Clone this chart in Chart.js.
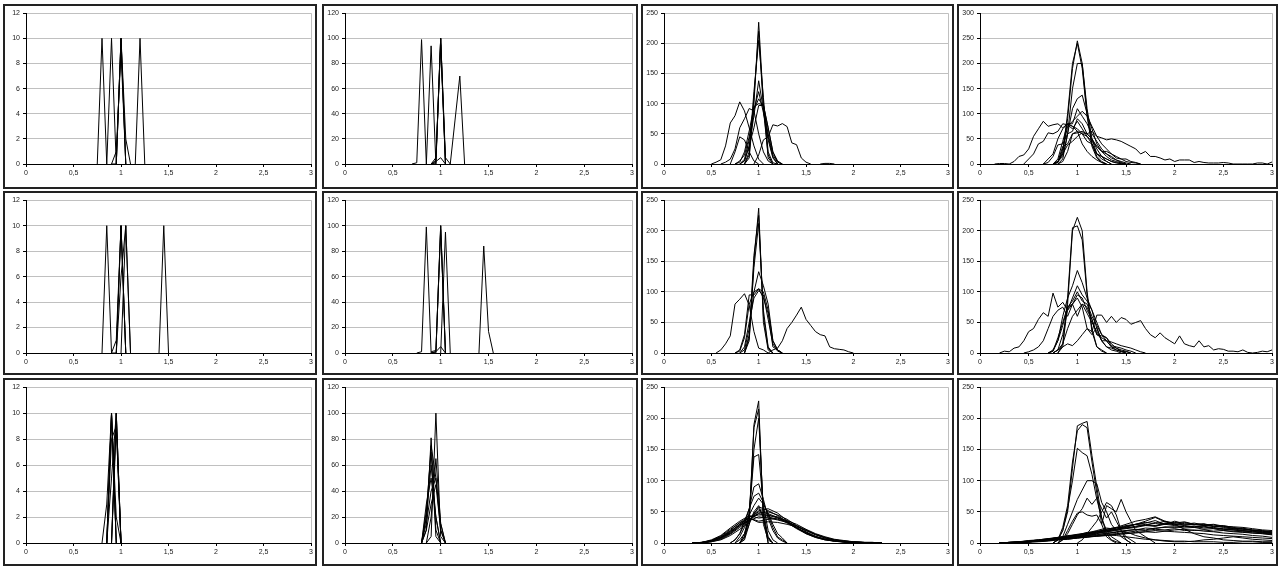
<!DOCTYPE html>
<html>
<head>
<meta charset="utf-8">
<script src="https://cdn.jsdelivr.net/npm/chart.js@4/dist/chart.umd.min.js"></script>
<style>
  body { margin: 0; background: #fff; }
  #wrap { position: relative; width: 1279px; height: 567px; overflow: hidden; }
  .panel { position: absolute; border: 2px solid #222; box-sizing: border-box; background: #fff; }
  .panel canvas { display: block; }
</style>
</head>
<body>
<div id="wrap"></div>
<script>
// histogram bins: each series is [first bin x, values...], bin width 0.05
const xTickLabels = ['0', '0,5', '1', '1,5', '2', '2,5', '3'];
const yMaxes = [12, 120, 250, 300, 12, 120, 250, 250, 12, 120, 250, 250];
const ySteps = [2, 20, 50, 50, 2, 20, 50, 50, 2, 20, 50, 50];

const r1c1 = [
    [0.75, 0, 10, 0],
    [0.85, 0, 10, 0],
    [0.95, 0, 10, 0],
    [0.95, 0, 10, 0],
    [0.9, 0, 0, 10, 2, 0],
    [0.9, 0, 1, 9, 0],
    [1.15, 0, 10, 0],
];
const r1c2 = [
    [0.7, 0, 1, 99, 0],
    [0.85, 0, 94, 0],
    [0.9, 0, 0, 100, 0],
    [0.9, 0, 1, 100, 0],
    [0.9, 0, 3, 100, 5, 0],
    [0.9, 0, 5, 95, 0],
    [0.9, 0, 2, 5, 0],
    [1.1, 0, 35, 70, 0],
];
const r1c3 = [
    [0.85, 0, 10, 100, 235, 100, 10, 0],
    [0.85, 0, 15, 110, 220, 90, 15, 0],
    [0.85, 0, 20, 120, 205, 110, 20, 2, 0],
    [0.8, 0, 5, 30, 80, 138, 90, 40, 10, 0],
    [0.8, 0, 8, 40, 90, 120, 85, 45, 12, 0],
    [0.75, 0, 5, 15, 45, 90, 108, 95, 50, 15, 3, 0],
    [0.75, 0, 3, 20, 55, 95, 100, 98, 60, 20, 5, 0],
    [0.5, 0, 3, 7, 30, 68, 80, 103, 88, 60, 30, 8, 0],
    [0.6, 0, 3, 8, 25, 60, 75, 92, 88, 50, 20, 5, 0],
    [0.95, 0, 15, 40, 45, 65, 63, 67, 62, 35, 32, 10, 3, 0],
    [1.65, 0, 1, 1, 0],
    [0.7, 0, 20, 45, 40, 20, 5, 0],
    [0.8, 0, 5, 30, 60, 97, 97, 60, 20, 3, 0],
];
const r1c4 = [
    [0.75, 0, 5, 20, 90, 190, 245, 200, 100, 40, 15, 5, 0],
    [0.75, 0, 3, 25, 100, 200, 240, 190, 95, 35, 12, 3, 0],
    [0.8, 0, 10, 60, 150, 200, 200, 110, 50, 20, 10, 5, 0],
    [0.75, 0, 5, 15, 60, 110, 130, 137, 100, 70, 40, 25, 15, 8, 5, 2, 0],
    [0.3, 0, 5, 15, 18, 30, 55, 70, 85, 75, 78, 80, 72, 80, 75, 70, 60, 45, 40, 20, 15, 10, 5, 2, 1, 0],
    [0.45, 0, 10, 20, 40, 45, 62, 60, 65, 80, 78, 70, 85, 70, 55, 40, 20, 15, 10, 5, 3, 0],
    [0.75, 0, 5, 20, 38, 45, 55, 62, 60, 65, 55, 52, 48, 50, 48, 45, 40, 35, 30, 20, 25, 15, 15, 12, 8, 10,
        5, 8, 8, 8, 3, 5, 3, 2, 2, 2, 3, 2, 0, 0, 0, 0, 0, 2, 2, 0, 4],
    [0.75, 0, 3, 30, 75, 85, 95, 105, 95, 75, 55, 40, 30, 20, 15, 10, 5, 3, 2, 0],
    [0.75, 0, 10, 45, 80, 80, 110, 95, 80, 60, 45, 30, 20, 12, 8, 3, 0],
    [0.65, 0, 3, 15, 38, 40, 60, 65, 90, 80, 60, 50, 35, 25, 25, 20, 12, 10, 10, 5, 3, 0],
    [0.75, 0, 5, 35, 40, 60, 62, 65, 60, 50, 30, 15, 5, 0],
    [0.15, 0, 1, 1, 0],
    [0.65, 0, 10, 20, 50, 70, 80, 75, 65, 40, 25, 15, 8, 3, 0],
    [0.8, 0, 5, 25, 60, 65, 60, 55, 45, 35, 25, 20, 15, 8, 5, 2, 0],
];
const r2c1 = [
    [0.8, 0, 10, 0],
    [0.95, 0, 10, 0],
    [0.95, 0, 10, 0],
    [0.9, 0, 1, 10, 0],
    [0.9, 0, 0, 6, 10, 0],
    [1.0, 0, 10, 0],
    [1.4, 0, 10, 0],
];
const r2c2 = [
    [0.75, 0, 1, 99, 0],
    [0.9, 0, 0, 100, 0],
    [0.9, 0, 1, 100, 0],
    [0.9, 1, 2, 97, 0],
    [0.9, 0, 1, 5, 0],
    [1.0, 0, 95, 0],
    [1.4, 0, 84, 17, 0],
];
const r2c3 = [
    [0.85, 0, 20, 150, 237, 50, 5, 0],
    [0.85, 0, 30, 160, 225, 60, 8, 0],
    [0.85, 0, 25, 140, 212, 70, 10, 0],
    [0.8, 0, 5, 40, 100, 133, 110, 80, 20, 5, 0],
    [0.75, 0, 5, 30, 95, 95, 105, 100, 70, 20, 5, 0],
    [0.75, 0, 3, 25, 80, 100, 105, 90, 65, 10, 5, 0],
    [0.8, 0, 10, 50, 90, 102, 95, 55, 15, 3, 0],
    [0.55, 0, 5, 15, 28, 80, 88, 97, 78, 35, 8, 5, 0],
    [1.1, 0, 5, 8, 20, 40, 50, 62, 75, 55, 45, 35, 30, 28, 10, 7, 6, 5, 2, 0],
];
const r2c4 = [
    [0.8, 0, 10, 80, 200, 222, 200, 100, 40, 10, 5, 0],
    [0.8, 0, 15, 90, 205, 208, 185, 95, 35, 10, 3, 0],
    [0.7, 0, 3, 20, 60, 90, 110, 135, 115, 90, 70, 40, 20, 10, 5, 3, 0],
    [0.2, 0, 3, 2, 8, 10, 20, 35, 40, 55, 66, 60, 98, 75, 83, 70, 80, 60, 80, 65, 50, 35, 20, 10, 8, 5, 3, 2, 0],
    [0.45, 0, 2, 5, 10, 20, 40, 60, 70, 75, 60, 80, 90, 75, 40, 35, 62, 62, 50, 60, 50, 58, 55, 47, 50, 53,
        40, 30, 25, 33, 25, 20, 15, 28, 15, 12, 10, 20, 10, 12, 5, 7, 6, 3, 3, 2, 5, 1, 0, 1, 3, 2, 5],
    [0.75, 0, 5, 30, 70, 90, 110, 95, 85, 70, 50, 30, 20, 10, 5, 2, 0],
    [0.7, 0, 5, 20, 45, 75, 85, 100, 85, 80, 60, 45, 30, 25, 15, 8, 5, 3, 0],
    [0.7, 0, 3, 25, 50, 75, 80, 95, 90, 70, 55, 30, 25, 20, 10, 8, 3, 0],
    [0.75, 0, 5, 10, 15, 12, 20, 30, 40, 30, 42, 20, 20, 18, 15, 12, 10, 8, 5, 2, 0],
    [0.75, 0, 5, 15, 40, 60, 70, 80, 75, 55, 30, 28, 25, 12, 10, 8, 5, 3, 0],
];
const r3c1 = [
    [0.85, 0, 10, 0],
    [0.85, 0, 10, 0],
    [0.8, 0, 3, 10, 0],
    [0.85, 0, 10, 2, 0],
    [0.9, 0, 10, 0],
    [0.9, 0, 10, 0],
    [0.85, 0, 8, 9, 0],
    [0.85, 0, 5, 10, 0],
    [0.9, 0, 9, 0],
];
const r3c2 = [
    [0.85, 0, 5, 100, 5, 0],
    [0.8, 0, 10, 81, 10, 0],
    [0.8, 0, 20, 60, 20, 0],
    [0.8, 0, 30, 50, 20, 0],
    [0.8, 0, 15, 40, 50, 15, 0],
    [0.8, 0, 10, 30, 45, 10, 0],
    [0.85, 0, 20, 65, 15, 0],
    [0.8, 0, 25, 70, 5, 0],
    [0.8, 0, 20, 75, 50, 10, 0],
];
const r3c3 = [
    [0.8, 0, 5, 30, 190, 228, 30, 5, 0],
    [0.8, 0, 8, 40, 185, 215, 40, 8, 0],
    [0.8, 0, 10, 50, 150, 200, 50, 10, 0],
    [0.75, 0, 5, 15, 45, 138, 142, 60, 20, 5, 0],
    [0.7, 0, 5, 15, 30, 55, 90, 95, 70, 40, 20, 8, 3, 0],
    [0.7, 0, 5, 15, 35, 55, 75, 80, 65, 45, 25, 10, 5, 0],
    [0.75, 0, 10, 25, 45, 60, 72, 62, 48, 30, 15, 8, 0],
    [0.8, 0, 10, 30, 50, 60, 40, 0],
    [0.8, 0, 15, 35, 48, 55, 45, 0],
];
// wider series, bin width 0.1
const r3c3Broad = [
    [0.3, 0, 1, 4, 10, 20, 33, 42, 45, 45, 40, 32, 24, 16, 10, 6, 3, 2, 1, 1, 0, 0],
    [0.3, 0, 0, 3, 8, 16, 28, 38, 48, 50, 45, 38, 28, 18, 11, 6, 4, 2, 1, 0, 0, 0],
    [0.3, 0, 1, 5, 12, 24, 35, 44, 40, 42, 38, 34, 27, 20, 14, 8, 5, 3, 2, 1, 1, 0],
    [0.3, 0, 0, 2, 6, 14, 25, 36, 52, 55, 48, 36, 25, 15, 9, 5, 3, 1, 1, 0, 0, 0],
    [0.3, 0, 1, 3, 9, 18, 30, 40, 35, 38, 40, 36, 30, 22, 15, 10, 6, 4, 2, 1, 0, 0],
    [0.3, 0, 0, 4, 11, 22, 32, 40, 33, 34, 33, 30, 26, 20, 13, 8, 5, 3, 2, 1, 0, 0],
    [0.3, 0, 1, 3, 7, 15, 27, 37, 47, 44, 42, 35, 25, 17, 10, 6, 3, 2, 1, 0, 0, 0],
    [0.3, 0, 0, 2, 5, 12, 22, 33, 58, 52, 44, 34, 24, 16, 10, 6, 4, 2, 1, 1, 0, 0],
    [0.3, 0, 1, 4, 9, 19, 29, 36, 42, 40, 37, 33, 28, 21, 14, 9, 5, 3, 2, 1, 1, 0],
    [0.3, 0, 0, 3, 8, 17, 30, 41, 50, 47, 41, 33, 23, 15, 9, 5, 3, 2, 1, 0, 0, 0],
];
const r3c4 = [
    [0.75, 0, 5, 20, 50, 120, 188, 192, 195, 140, 90, 40, 15, 5, 2, 0],
    [0.75, 0, 5, 25, 60, 130, 180, 190, 185, 130, 80, 30, 10, 4, 0],
    [0.75, 0, 5, 20, 55, 100, 152, 145, 140, 110, 70, 40, 20, 10, 5, 0],
    [0.8, 0, 10, 30, 50, 70, 85, 100, 100, 95, 65, 50, 30, 20, 10, 5, 0],
    [0.8, 0, 5, 15, 30, 45, 55, 72, 62, 72, 55, 40, 50, 35, 20, 10, 5, 0],
    [0.8, 0, 5, 20, 35, 48, 50, 45, 43, 45, 30, 60, 55, 50, 70, 50, 35, 20, 15, 10, 5, 0],
    [1.0, 0, 5, 15, 25, 35, 50, 65, 60, 45, 20, 5, 0],
];
const r3c4Flat = [
    [0.2, 0, 1, 2, 3, 4, 6, 9, 11, 14, 16, 20, 24, 22, 27, 30, 28, 33, 30, 35, 31, 29, 30, 26, 27, 23, 22, 20, 18, 17],
    [0.2, 0, 0, 1, 2, 4, 5, 7, 8, 10, 12, 14, 15, 18, 20, 22, 21, 24, 25, 26, 24, 25, 22, 23, 20, 19, 18, 16, 15, 14],
    [0.2, 0, 1, 1, 3, 5, 7, 8, 12, 13, 17, 18, 22, 25, 24, 27, 30, 28, 32, 29, 33, 30, 28, 27, 25, 22, 24, 20, 19, 16],
    [0.2, 0, 0, 2, 2, 3, 5, 6, 8, 9, 11, 12, 14, 15, 17, 19, 20, 22, 21, 23, 20, 21, 19, 18, 16, 15, 14, 12, 11, 9],
    [0.2, 0, 1, 2, 4, 5, 6, 9, 10, 13, 15, 19, 20, 24, 26, 30, 33, 31, 35, 32, 34, 30, 31, 27, 28, 25, 23, 21, 20, 18],
    [0.2, 0, 0, 1, 2, 3, 4, 6, 7, 8, 10, 11, 12, 14, 15, 16, 18, 17, 19, 18, 17, 16, 15, 13, 12, 11, 10, 9, 8, 7],
    [0.2, 0, 1, 2, 3, 5, 7, 9, 11, 13, 15, 17, 20, 24, 28, 30, 32, 36, 30, 28, 26, 27, 24, 25, 22, 21, 19, 18, 17, 15],
    [0.2, 0, 0, 1, 2, 4, 5, 8, 10, 13, 14, 18, 20, 22, 25, 30, 35, 41, 34, 30, 28, 26, 27, 24, 23, 21, 20, 18, 16, 14],
    [0.2, 0, 1, 2, 3, 4, 6, 8, 9, 11, 13, 16, 18, 21, 23, 25, 28, 27, 30, 31, 29, 30, 28, 29, 26, 24, 22, 21, 19, 18],
    [0.2, 0, 0, 1, 2, 3, 5, 6, 8, 10, 12, 13, 16, 17, 20, 21, 24, 23, 26, 25, 27, 25, 26, 23, 22, 23, 20, 19, 17, 16],
    [0.2, 0, 0, 1, 2, 3, 4, 6, 8, 10, 12, 15, 18, 20, 18, 12, 8, 5, 3, 2, 2, 3, 5, 6, 8, 10, 8, 6, 5, 4],
    [0.2, 0, 0, 1, 2, 3, 5, 7, 9, 12, 15, 18, 22, 25, 30, 35, 38, 42, 35, 30, 22, 15, 10, 8, 5, 4, 3, 3, 2, 2],
    [0.2, 0, 0, 0, 1, 2, 3, 5, 6, 8, 9, 11, 12, 14, 15, 17, 18, 20, 19, 21, 22, 20, 21, 19, 20, 18, 17, 16, 15, 13],
    [0.2, 0, 1, 1, 2, 4, 6, 7, 9, 11, 14, 16, 19, 22, 24, 26, 29, 27, 31, 33, 30, 32, 29, 30, 27, 26, 25, 23, 21, 20],
    [0.2, 0, 0, 1, 2, 3, 4, 5, 6, 8, 10, 11, 13, 12, 10, 8, 6, 5, 4, 3, 3, 2, 2, 2, 1, 1, 2, 2, 1, 1],
];

// page layout of the 12 framed charts
const colLeft = [3, 322, 641, 957];
const colWidth = [314, 316, 313, 321];
const rowTop = [4, 191, 378];
const rowHeight = [185, 184, 188];
const rowAxis = [158, 160, 163];

function toPoints(series, step) {
    const x0 = series[0];
    return series.slice(1).map((y, i) => ({ x: +(x0 + i * step).toFixed(3), y: y }));
}

const panels = [
    [r1c1], [r1c2], [r1c3], [r1c4],
    [r2c1], [r2c2], [r2c3], [r2c4],
    [r3c1], [r3c2], [r3c3, r3c3Broad], [r3c4, r3c4Flat],
];

const tickFont = { family: 'Liberation Sans', size: 7 };
const wrap = document.getElementById('wrap');

panels.forEach((p, k) => {
    const row = Math.floor(k / 4), col = k % 4;
    const div = document.createElement('div');
    div.className = 'panel';
    div.style.left = colLeft[col] + 'px';
    div.style.top = rowTop[row] + 'px';
    div.style.width = colWidth[col] + 'px';
    div.style.height = rowHeight[row] + 'px';
    const canvas = document.createElement('canvas');
    const w = colWidth[col] - 4, h = rowHeight[row] - 4;
    canvas.width = w;
    canvas.height = h;
    div.appendChild(canvas);
    wrap.appendChild(div);

    let series = p[0].map(s => toPoints(s, 0.05));
    if (p[1]) series = series.concat(p[1].map(s => toPoints(s, 0.1)));

    new Chart(canvas, {
        type: 'line',
        data: {
            datasets: series.map(d => ({
                data: d,
                borderColor: '#000',
                borderWidth: 1,
                pointRadius: 0,
                tension: 0,
                fill: false,
            }))
        },
        options: {
            responsive: false,
            animation: false,
            events: [],
            layout: { padding: { top: 6, right: 3, left: 0, bottom: 0 } },
            plugins: { legend: { display: false }, tooltip: { enabled: false } },
            scales: {
                x: {
                    type: 'linear',
                    min: 0,
                    max: 3,
                    ticks: {
                        stepSize: 0.5,
                        autoSkip: false,
                        maxRotation: 0,
                        font: tickFont,
                        color: '#222',
                        padding: 2,
                        callback: v => xTickLabels[Math.round(v * 2)],
                    },
                    grid: {
                        color: c => (c.tick && c.tick.value === 3) ? '#c0c0c0' : 'rgba(0,0,0,0)',
                        tickColor: '#000',
                        tickLength: 3,
                    },
                    border: { color: '#000', width: 1 },
                    afterFit: s => { s.height = h - rowAxis[row]; },
                },
                y: {
                    min: 0,
                    max: yMaxes[k],
                    ticks: { stepSize: ySteps[k], font: tickFont, color: '#222', padding: 3 },
                    grid: {
                        color: c => (c.tick && c.tick.value === 0) ? 'rgba(0,0,0,0)' : '#c0c0c0',
                        tickColor: '#000',
                        tickLength: 3,
                    },
                    border: { color: '#000', width: 1 },
                    afterFit: s => { s.width = 21; },
                },
            },
        },
    });
});
</script>
</body>
</html>
